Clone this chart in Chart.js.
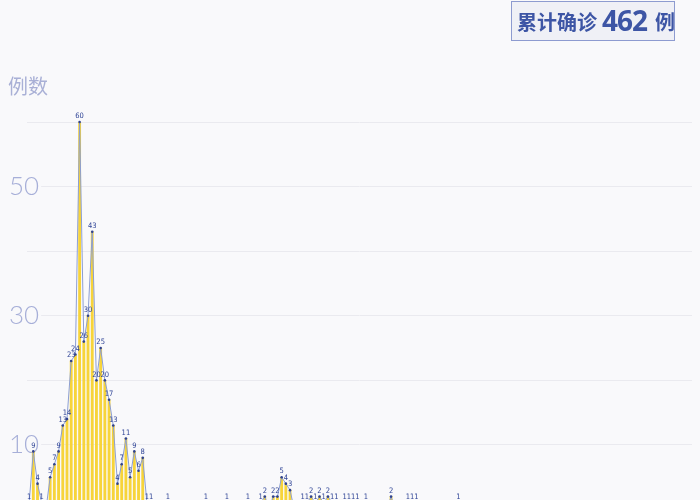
<!DOCTYPE html>
<html>
<head>
<meta charset="utf-8">
<script src="https://cdn.jsdelivr.net/npm/chart.js@4.4.1/dist/chart.umd.min.js"></script>
<style>
  html, body { margin: 0; padding: 0; background: #f9f9fb; overflow: hidden; }
  body { width: 700px; height: 500px; position: relative; }
  #wrap { position: absolute; left: 0; top: 0; width: 700px; height: 560px; }
  #ytitle { position: absolute; left: 8px; top: 71px; font-family: "Noto Sans CJK SC", sans-serif; font-size: 20px; color: #a9b0d6; }
  #total {
    position: absolute; left: 511px; top: 1px; width: 157px; height: 38px;
    border: 1.5px solid #8d9bd0; background: #eff0f6; color: #3d55a5;
    display: flex; align-items: center; justify-content: flex-start;
    padding-left: 5px; box-sizing: content-box;
    white-space: nowrap;
    font-family: "Noto Sans CJK SC", sans-serif; font-weight: bold;
  }
  #total span { flex-shrink: 0; }
  #total .t { font-size: 20px; }
  #total .n { font-size: 28px; letter-spacing: -1px; margin: 0 8px 3px 5px; font-family: "Noto Sans", sans-serif; }
</style>
</head>
<body>
<div id="wrap"><canvas id="canvas"></canvas></div>
<div id="ytitle">例数</div>
<div id="total"><span class="t">累计确诊</span><span class="n">462</span><span class="t">例</span></div>
<script>
// daily new confirmed cases
const cases = [
  1, 9, 4, 1, 0, 5, 7, 9, 13, 14,
  23, 24, 60, 26, 30, 43, 20, 25, 20, 17,
  13, 4, 7, 11, 5, 9, 6, 8, 1, 1,
  0, 0, 0, 1, 0, 0, 0, 0, 0, 0,
  0, 0, 1, 0, 0, 0, 0, 1, 0, 0,
  0, 0, 1, 0, 0, 1, 2, 0, 2, 2,
  5, 4, 3, 0, 0, 1, 1, 2, 1, 2,
  1, 2, 1, 1, 0, 1, 1, 1, 1, 0,
  1, 0, 0, 0, 0, 0, 2, 0, 0, 0,
  1, 1, 1, 0, 0, 0, 0, 0, 0, 0,
  0, 0, 1
];

// the x axis is cut off below the picture; days run on past the last report
const dayCount = 158;
const days = [];
for (let i = 0; i < dayCount; i++) {
  days.push('第' + (i + 1) + '天');
}

const yTickLabels = [10, 30, 50];

const BG = '#f9f9fb';

const pointLabels = {
  id: 'pointLabels',
  afterDatasetsDraw(chart) {
    const meta = chart.getDatasetMeta(1);
    const ctx = chart.ctx;
    ctx.save();
    ctx.font = '7.5px "Liberation Sans Narrow", "DejaVu Sans Condensed", sans-serif';
    ctx.fillStyle = '#2f4496';
    ctx.textAlign = 'center';
    ctx.textBaseline = 'bottom';
    meta.data.forEach(function(pt, i) {
      ctx.fillText(String(cases[i]), pt.x, pt.y - 2);
    });
    ctx.restore();
  }
};

const ctx = document.getElementById('canvas');

new Chart(ctx, {
  data: {
    labels: days,
    datasets: [
      {
        type: 'bar',
        data: cases,
        backgroundColor: '#f7d43a',
        borderWidth: 0,
        barThickness: 2.2,
        order: 2
      },
      {
        type: 'line',
        data: cases,
        borderColor: '#8c9ed2',
        borderWidth: 1,
        pointRadius: 1.3,
        pointBorderWidth: 0,
        pointBackgroundColor: '#2f428f',
        tension: 0,
        clip: false,
        order: 1
      }
    ]
  },
  options: {
    responsive: true,
    maintainAspectRatio: false,
    animation: false,
    events: [],
    layout: {
      padding: { left: 27, right: 8, top: 122, bottom: 50.5 }
    },
    plugins: {
      legend: { display: false },
      tooltip: { enabled: false }
    },
    scales: {
      x: {
        display: false,
        offset: true
      },
      y: {
        min: 0,
        max: 60,
        border: { display: false },
        grid: {
          color: '#eaeaef',
          lineWidth: 1,
          drawTicks: false
        },
        afterFit: function(scale) {
          scale.width = 0;
        },
        ticks: {
          stepSize: 10,
          mirror: true,
          crossAlign: 'near',
          padding: -18,
          color: '#a7afd8',
          font: { family: 'Lato', size: 26, weight: '300' },
          showLabelBackdrop: true,
          backdropPadding: 2,
          backdropColor: function(c) {
            return yTickLabels.includes(c.tick.value) ? BG : 'rgba(0,0,0,0)';
          },
          callback: function(val) {
            return yTickLabels.includes(val) ? String(val) : '';
          }
        }
      }
    }
  },
  plugins: [pointLabels]
});
</script>
</body>
</html>
